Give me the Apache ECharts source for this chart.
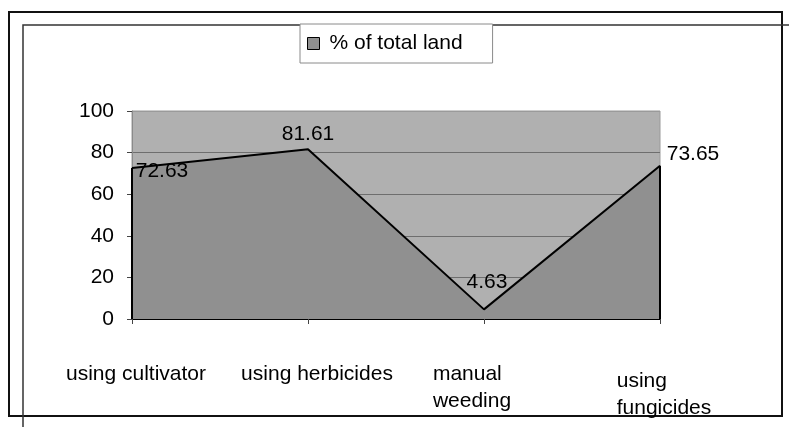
<!DOCTYPE html>
<html>
<head>
<meta charset="utf-8">
<script src="https://cdn.jsdelivr.net/npm/echarts@6.0.0/dist/echarts.min.js"></script>
<style>
html,body{margin:0;padding:0;background:#fff;}
#chart{width:789px;height:427px;}
</style>
</head>
<body>
<div id="chart"></div>
<script>
// ---- data ----
const categories = ['using cultivator', 'using herbicides', 'manual\nweeding', 'using\nfungicides'];
const seriesName = '% of total land';
const values = [72.63, 81.61, 4.63, 73.65];
const yTicks = { min: 0, max: 100, interval: 20 };

// ---- styling ----
const FONT = "'Liberation Sans', Arial, sans-serif";
const labelShift = [[30, 3], [0, -15], [3, -27], [33, -12]];
const lineStyles = [['a0'], ['a1'], ['a2', 'a2'], ['b3', 'c3']];

const chart = echarts.init(document.getElementById('chart'), null, { renderer: 'canvas' });

const lastIdx = values.length - 1;

const option = {
  animation: false,
  backgroundColor: '#ffffff',
  textStyle: { fontFamily: FONT },
  graphic: [
    { type: 'rect', z: 0, silent: true,
      shape: { x: 9, y: 12, width: 773, height: 404 },
      style: { fill: 'none', stroke: '#111', lineWidth: 2 } },
    { type: 'rect', z: 0, silent: true,
      shape: { x: 23, y: 25, width: 820, height: 440 },
      style: { fill: 'none', stroke: '#333', lineWidth: 1.5 } }
  ],
  legend: {
    left: 300, top: 24,
    orient: 'horizontal',
    backgroundColor: '#ffffff',
    borderColor: '#8a8a8a', borderWidth: 1, borderRadius: 0,
    padding: [9, 30, 9, 7],
    itemWidth: 12, itemHeight: 12,
    icon: 'rect',
    itemStyle: { borderColor: '#000', borderWidth: 1 },
    textStyle: { fontFamily: FONT, fontSize: 21, color: '#000', lineHeight: 21, padding: [0, 0, 0, 5] },
    data: [seriesName]
  },
  grid: {
    left: 132, right: 129, top: 111, bottom: 108,
    show: true, backgroundColor: '#b0b0b0', borderColor: '#9a9a9a', borderWidth: 1,
    containLabel: false
  },
  xAxis: {
    type: 'category',
    boundaryGap: false,
    data: categories,
    axisLine: { show: true, lineStyle: { color: '#000', width: 2 } },
    axisTick: { show: true, length: 5, lineStyle: { color: '#444', width: 1 } },
    splitLine: { show: false },
    axisLabel: {
      margin: 42,
      interval: 0,
      fontFamily: FONT, fontSize: 21, color: '#000', lineHeight: 27,
      formatter: function (value, index) {
        const parts = String(value).split('\n');
        return parts.map((p, j) => '{' + lineStyles[index][j] + '|' + p + '}').join('\n');
      },
      rich: {
        a0: { fontFamily: FONT, fontSize: 21, color: '#000', lineHeight: 27, align: 'left', padding: [0, 0, 0, 8] },
        a1: { fontFamily: FONT, fontSize: 21, color: '#000', lineHeight: 27, align: 'left', padding: [0, 0, 0, 18] },
        a2: { fontFamily: FONT, fontSize: 21, color: '#000', lineHeight: 27, align: 'left', padding: [0, 24, 0, 0] },
        b3: { fontFamily: FONT, fontSize: 21, color: '#000', lineHeight: 41, align: 'left', padding: [0, 0, 0, 8] },
        c3: { fontFamily: FONT, fontSize: 21, color: '#000', lineHeight: 13, align: 'left', padding: [0, 0, 0, 8] }
      }
    }
  },
  yAxis: {
    type: 'value',
    min: yTicks.min, max: yTicks.max, interval: yTicks.interval,
    axisLine: { show: true, lineStyle: { color: '#8a8a8a', width: 1 } },
    axisTick: { show: true, length: 5, lineStyle: { color: '#444', width: 1 } },
    axisLabel: { margin: 18, fontFamily: FONT, fontSize: 21, color: '#000' },
    splitLine: { show: true, lineStyle: { color: ['#6e6e6e', '#6e6e6e', '#6e6e6e', '#6e6e6e', '#6e6e6e', '#9a9a9a'], width: 1 } }
  },
  series: [{
    name: seriesName,
    type: 'line',
    data: values.map((v, i) => ({
      value: v,
      label: { position: 'inside', offset: labelShift[i] }
    })),
    symbol: 'circle',
    symbolSize: 0,
    showSymbol: true,
    itemStyle: { color: '#909090' },
    lineStyle: { color: '#000', width: 2 },
    areaStyle: { color: '#909090', opacity: 1 },
    label: {
      show: true,
      fontFamily: FONT, fontSize: 21, color: '#000',
      formatter: function (p) { return p.value.toFixed(2); }
    },
    markLine: {
      silent: true,
      symbol: ['none', 'none'],
      label: { show: false },
      lineStyle: { color: '#000', width: 2, type: 'solid' },
      data: [
        [{ coord: [0, 0] }, { coord: [0, values[0]] }],
        [{ coord: [lastIdx, 0] }, { coord: [lastIdx, values[lastIdx]] }]
      ]
    },
    z: 3
  }]
};

chart.setOption(option);
</script>
</body>
</html>
